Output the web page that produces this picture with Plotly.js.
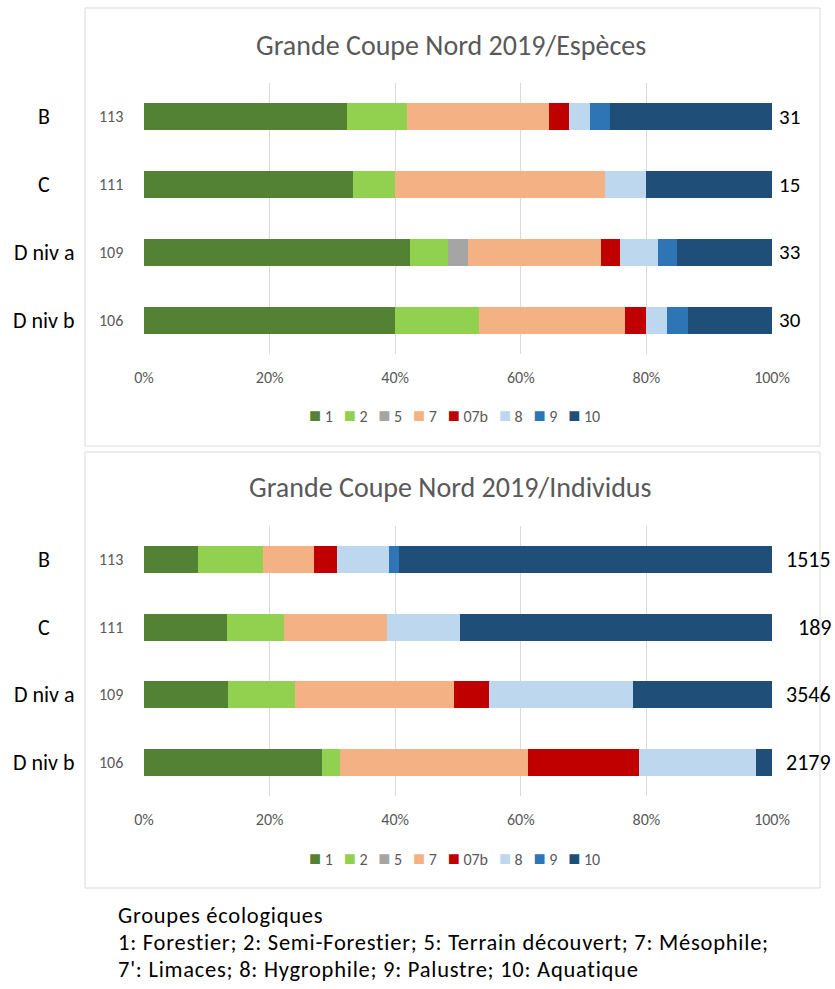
<!DOCTYPE html>
<html>
<head>
<meta charset="utf-8">
<script src="https://cdn.plot.ly/plotly-3.0.1.min.js"></script>
<style>html,body{margin:0;padding:0;background:#fff;}#chart{width:835px;height:989px;}</style>
</head>
<body>
<div id="chart"></div>
<script>
// ---- data ----
const sites = ['B', 'C', 'D niv a', 'D niv b'];
const stationCodes = ['113', '111', '109', '106'];
const groups = ['1', '2', '5', '7', '07b', '8', '9', '10'];
const groupColors = ['#548235', '#92D050', '#A5A5A5', '#F4B183', '#C00000', '#BDD7EE', '#2E75B6', '#1F4E79'];
const tickValues = [0, 20, 40, 60, 80, 100];
const tickLabels = ['0%', '20%', '40%', '60%', '80%', '100%'];

// Espèces (number of species per ecological group), rows = sites
const especes_1   = [10, 5, 14, 12];
const especes_2   = [3, 1, 2, 4];
const especes_5   = [0, 0, 1, 0];
const especes_7   = [7, 5, 7, 7];
const especes_07b = [1, 0, 1, 1];
const especes_8   = [1, 1, 2, 1];
const especes_9   = [1, 0, 1, 1];
const especes_10  = [8, 3, 5, 4];

// Individus (number of individuals per ecological group)
const individus_1   = [130, 25, 472, 617];
const individus_2   = [158, 17, 378, 64];
const individus_5   = [0, 0, 0, 0];
const individus_7   = [122, 31, 902, 652];
const individus_07b = [56, 0, 198, 384];
const individus_8   = [125, 22, 809, 405];
const individus_9   = [24, 0, 0, 0];
const individus_10  = [900, 94, 787, 57];

const titles = ['Grande Coupe Nord 2019/Espèces', 'Grande Coupe Nord 2019/Individus'];
const footnote = ['Groupes écologiques',
  '1: Forestier; 2: Semi-Forestier; 5: Terrain découvert; 7: Mésophile;',
  "7': Limaces; 8: Hygrophile; 9: Palustre; 10: Aquatique"];

// ---- build ----
const W = 835, H = 989;
const px = x => x / W;
const py = y => 1 - y / H;
const FONT = 'Carlito, Calibri, Lato, sans-serif';

const espSeries = [especes_1, especes_2, especes_5, especes_7, especes_07b, especes_8, especes_9, especes_10];
const indSeries = [individus_1, individus_2, individus_5, individus_7, individus_07b, individus_8, individus_9, individus_10];

const traces = [];
function addTraces(series, xa, ya) {
  series.forEach((vals, i) => {
    traces.push({
      type: 'bar', orientation: 'h',
      x: vals, y: sites, name: groups[i],
      xaxis: xa, yaxis: ya, showlegend: false,
      marker: {color: groupColors[i], line: {width: 0}},
      hoverinfo: 'name+x'
    });
  });
}
addTraces(espSeries, 'x', 'y');
addTraces(indSeries, 'x2', 'y2');

function totals(series) {
  return sites.map((_, j) => series.reduce((s, arr) => s + arr[j], 0));
}
const espTot = totals(espSeries), indTot = totals(indSeries);

const annotations = [];
function addLabels(yref, tot, totX, totAnchor, totSize) {
  sites.forEach((s, j) => {
    annotations.push({xref: 'paper', yref: yref, x: px(44), y: s, text: s, showarrow: false,
      xanchor: 'center', yanchor: 'middle', font: {family: FONT, size: 22, color: '#000'}});
    annotations.push({xref: 'paper', yref: yref, x: px(111), y: s, text: stationCodes[j], showarrow: false,
      xanchor: 'center', yanchor: 'middle', font: {family: FONT, size: 16, color: '#595959'}});
    annotations.push({xref: 'paper', yref: yref, x: px(totX), y: s, text: String(tot[j]), showarrow: false,
      xanchor: totAnchor, yanchor: 'middle', font: {family: FONT, size: totSize, color: '#000'}});
  });
}
addLabels('y', espTot, 777, 'left', 21);
addLabels('y2', indTot, 833, 'right', 22);

annotations.push({xref: 'paper', yref: 'paper', x: px(451), y: py(45), text: titles[0], showarrow: false,
  xanchor: 'center', yanchor: 'middle', font: {family: FONT, size: 28, color: '#595959'}});
annotations.push({xref: 'paper', yref: 'paper', x: px(451), y: py(487), text: titles[1], showarrow: false,
  xanchor: 'center', yanchor: 'middle', font: {family: FONT, size: 28, color: '#595959'}});
[915, 942, 969].forEach((yy, k) => {
  annotations.push({xref: 'paper', yref: 'paper', x: px(116), y: py(yy),
    text: '<span style="letter-spacing:0.75px">' + footnote[k] + '</span>', showarrow: false,
    xanchor: 'left', yanchor: 'middle', font: {family: FONT, size: 22.5, color: '#000'}});
});

// legend drawn as a single rich-text line built from the group names and colours
const legendText = groups.map((g, i) =>
  '<span style="color:' + groupColors[i] + ';font-size:20px">■</span>&nbsp;' + g).join('&nbsp;&nbsp;&nbsp;');
[415, 858].forEach(yy => {
  annotations.push({xref: 'paper', yref: 'paper', x: px(455), y: py(yy), text: legendText, showarrow: false,
    xanchor: 'center', yanchor: 'middle', font: {family: FONT, size: 16, color: '#595959'}});
});

const xaxisBase = {
  range: [0, 100], tickmode: 'array', tickvals: tickValues, ticktext: tickLabels,
  showgrid: true, gridcolor: '#d9d9d9', gridwidth: 1, zeroline: false, showline: false,
  ticks: '', ticklabelstandoff: 12, tickfont: {family: FONT, size: 16, color: '#595959'},
  fixedrange: true
};
const yaxisBase = {
  type: 'category', autorange: 'reversed', showticklabels: false, showgrid: false,
  zeroline: false, showline: false, ticks: '', fixedrange: true
};

const layout = {
  width: W, height: H,
  margin: {l: 0, r: 0, t: 0, b: 0},
  paper_bgcolor: '#ffffff', plot_bgcolor: 'rgba(0,0,0,0)',
  barmode: 'stack', barnorm: 'percent', bargap: 0.6,
  showlegend: false,
  xaxis: Object.assign({}, xaxisBase, {domain: [px(144), px(772)], anchor: 'y'}),
  yaxis: Object.assign({}, yaxisBase, {domain: [py(354), py(83)], anchor: 'x'}),
  xaxis2: Object.assign({}, xaxisBase, {domain: [px(144), px(772)], anchor: 'y2'}),
  yaxis2: Object.assign({}, yaxisBase, {domain: [py(796), py(526)], anchor: 'x2'}),
  annotations: annotations,
  shapes: [
    {type: 'rect', xref: 'paper', yref: 'paper', x0: px(85), x1: px(820), y0: py(446), y1: py(8),
     line: {color: '#d9d9d9', width: 1}, fillcolor: 'rgba(0,0,0,0)', layer: 'below'},
    {type: 'rect', xref: 'paper', yref: 'paper', x0: px(85), x1: px(820), y0: py(888), y1: py(452),
     line: {color: '#d9d9d9', width: 1}, fillcolor: 'rgba(0,0,0,0)', layer: 'below'}
  ]
};

Plotly.newPlot('chart', traces, layout, {displayModeBar: false});
</script>
</body>
</html>
